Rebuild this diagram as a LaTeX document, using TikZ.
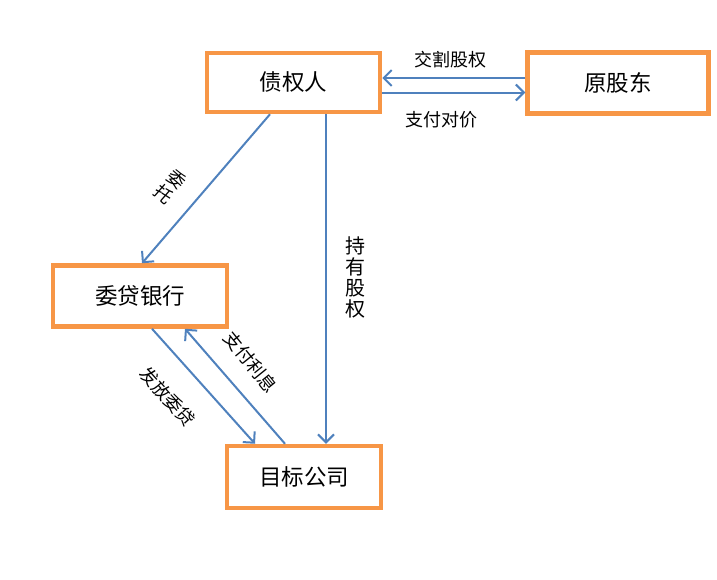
\documentclass[tikz,border=0pt]{standalone}
\usepackage{fontspec}
\setmainfont{Noto Sans CJK SC}
\usetikzlibrary{arrows.meta}
\definecolor{boxorange}{RGB}{247,150,70}
\definecolor{lineblue}{RGB}{79,129,189}
\tikzset{
    party/.style = {rectangle, draw=boxorange, line width=4.5pt, fill=white, font=\fontsize{22.5}{26}\selectfont},
    flow/.style = {draw=lineblue, line width=2pt, -{Straight Barb[length=8pt,width=16pt,line width=2pt]}},
    tag/.style = {font=\fontsize{18}{20}\selectfont, align=center, inner sep=0pt},
}
\begin{document}
\begin{tikzpicture}[x=1pt,y=-1pt]
\useasboundingbox (0,0) rectangle (717,579);
\node[party, minimum width=173pt, minimum height=59pt] at (293.5,82.5) (cred) {债权人};
\node[party, minimum width=181pt, minimum height=61pt] at (618,83) (owner) {原股东};
\node[party, minimum width=174pt, minimum height=61pt] at (140,296) (bank) {委贷银行};
\node[party, minimum width=154pt, minimum height=62pt] at (304,477) (target) {目标公司};
%
\draw[flow] ([yshift=5pt]owner.west) -- ([yshift=5pt]owner.west -| cred.east);
\draw[flow] ([yshift=-10pt]cred.east) -- ([yshift=-10pt]cred.east -| owner.west);
\draw[flow] ([xshift=-23.5pt]cred.south) -- ([xshift=2pt]bank.north);
\draw[flow] ([xshift=32.5pt]cred.south) -- ([xshift=22pt]target.north);
\draw[flow] ([xshift=12pt]bank.south) -- ([xshift=-49pt]target.north);
\draw[flow] ([xshift=-19pt]target.north) -- ([xshift=45pt]bank.south);
%
\node[tag] at (450,60) (t1) {交割股权};
\node[tag] at (441,120) (t2) {支付对价};
\node[tag, rotate=-41] at (170,187) (t3) {委\\托};
\node[tag, font=\fontsize{20}{21}\selectfont] at (355,277) (t4) {持\\有\\股\\权};
\node[tag, rotate=-48] at (168,397) (t5) {发放委贷};
\node[tag, rotate=-51] at (251,362) (t6) {支付利息};
\end{tikzpicture}
\end{document}
